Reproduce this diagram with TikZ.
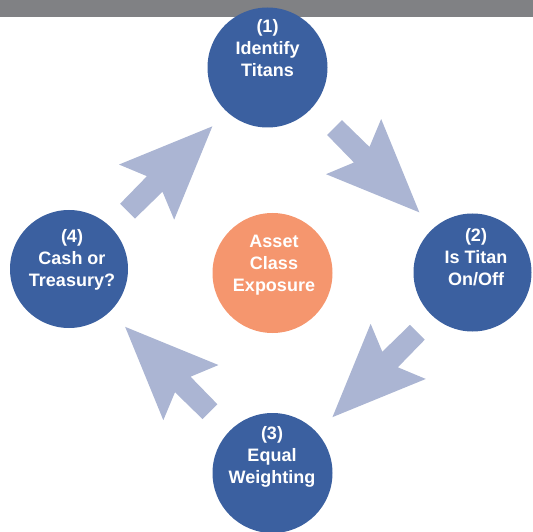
\documentclass[tikz,border=0pt]{standalone}
\usepackage{fontspec}
\setmainfont{Liberation Sans}
\definecolor{stepblue}{RGB}{59,96,160}
\definecolor{hubor}{RGB}{245,150,110}
\definecolor{arrowgray}{RGB}{171,181,211}
\definecolor{bargray}{RGB}{128,129,132}
\begin{document}
\begin{tikzpicture}[x=1pt,y=1pt,
  stepcirc/.style={circle,fill=stepblue,draw=none,minimum size=#1,inner sep=0pt},
  hubcirc/.style={circle,fill=hubor,draw=none,minimum size=120pt,inner sep=0pt},
  steptext/.style={text=white,align=center,font=\fontsize{18}{22}\selectfont\bfseries,inner sep=0pt},
  blockarrow/.pic={\fill[arrowgray] (0,10.5) -- (38.5,11) -- (27,39) -- (120,0) -- (27,-39) -- (38.5,-11) -- (0,-10.5) -- cycle;}
]
\useasboundingbox (0,0) rectangle (533,531);
\clip (0,0) rectangle (533,531);
\fill[bargray] (0,514.3) rectangle (533,531);
% circles
\node[stepcirc=120pt] (s1) at (267.5,463.5) {};
\node[stepcirc=118pt] (s2) at (472.5,258.5) {};
\node[stepcirc=120pt] (s3) at (272.5,58) {};
\node[stepcirc=118pt] (s4) at (69,262) {};
\node[hubcirc] (hub) at (272.5,258) {};
% texts
\node[steptext] (t1) at (267.5,483) {(1)\\Identify\\Titans};
\node[steptext] (t2) at (476,274) {(2)\\Is Titan\\On/Off};
\node[steptext] (t3) at (272,74) {(3)\\Equal\\Weighting};
\node[steptext] (t4) at (72,271) {(4)\\Cash or\\Treasury?};
\node[steptext] (th) at (274,266) {Asset\\Class\\Exposure};
% block arrows
\coordinate (a1) at (334.5,403.5);
\coordinate (a2) at (417.3,198.7);
\coordinate (a3) at (210,119.3);
\coordinate (a4) at (127.5,319.8);
\pic[rotate=-45] at (a1) {blockarrow};
\pic[rotate=-135] at (a2) {blockarrow};
\pic[rotate=135] at (a3) {blockarrow};
\pic[rotate=45] at (a4) {blockarrow};
\end{tikzpicture}
\end{document}
